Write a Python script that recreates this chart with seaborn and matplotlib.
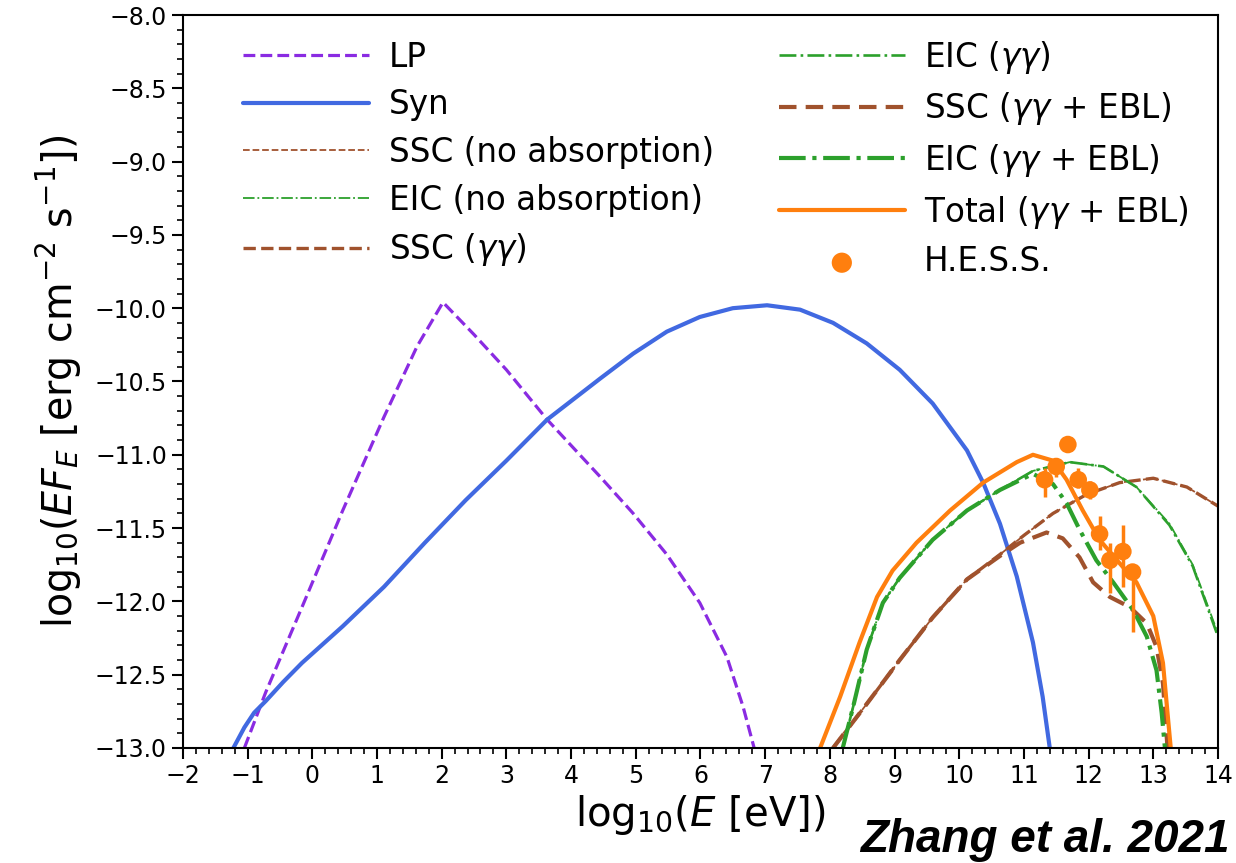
import numpy as np
import pandas as pd
import matplotlib
matplotlib.use("Agg")
import matplotlib.pyplot as plt
from matplotlib.ticker import AutoMinorLocator, MultipleLocator
import seaborn as sns

# curves: log10(E/eV) -> log10(E F_E)
lp_x = [-1.05, -0.72, -0.16, 0.47, 1.11, 1.62, 2.02, 2.5, 3.0, 3.63, 4.45, 4.96, 5.48, 5.99, 6.41, 6.66, 6.83]
lp_y = [-13.0, -12.62, -12.04, -11.38, -10.74, -10.26, -9.96, -10.18, -10.42, -10.76, -11.15, -11.40, -11.68, -12.01, -12.38, -12.72, -13.0]

syn_x = [-1.22, -1.05, -0.9, -0.72, -0.45, -0.16, 0.47, 1.11, 1.74, 2.37, 3.0, 3.63, 4.45, 4.96, 5.48,
         5.99, 6.50, 7.03, 7.54, 8.05, 8.57, 9.08, 9.59, 10.12, 10.37, 10.63, 10.89, 11.14, 11.29, 11.40]
syn_y = [-13.0, -12.86, -12.76, -12.68, -12.55, -12.42, -12.17, -11.90, -11.60, -11.31, -11.04, -10.76, -10.48, -10.31, -10.16,
         -10.06, -10.00, -9.98, -10.01, -10.10, -10.24, -10.42, -10.65, -10.97, -11.19, -11.47, -11.83, -12.28, -12.65, -13.0]

ssc_noabs_x = [8.05, 8.57, 9.08, 9.59, 10.12, 10.63, 11.0, 11.45, 11.97, 12.48, 13.0, 13.52, 14.0]
ssc_noabs_y = [-13.0, -12.70, -12.40, -12.11, -11.85, -11.68, -11.55, -11.40, -11.27, -11.19, -11.16, -11.22, -11.35]

eic_noabs_x = [8.2, 8.36, 8.57, 8.82, 9.08, 9.59, 10.12, 10.63, 11.14, 11.71, 12.23, 12.74, 13.25, 13.61, 14.0]
eic_noabs_y = [-13.0, -12.72, -12.33, -12.01, -11.84, -11.58, -11.38, -11.24, -11.11, -11.05, -11.08, -11.22, -11.47, -11.75, -12.22]

ssc_gg_x = [8.05, 8.57, 9.08, 9.59, 10.12, 10.63, 11.0, 11.45, 11.97, 12.48, 13.0, 13.52, 14.0]
ssc_gg_y = [-13.0, -12.70, -12.40, -12.11, -11.85, -11.68, -11.55, -11.40, -11.27, -11.19, -11.16, -11.22, -11.35]

eic_gg_x = [8.2, 8.36, 8.57, 8.82, 9.08, 9.59, 10.12, 10.63, 11.14, 11.71, 12.23, 12.74, 13.25, 13.61, 14.0]
eic_gg_y = [-13.0, -12.72, -12.33, -12.01, -11.84, -11.58, -11.38, -11.24, -11.11, -11.05, -11.08, -11.22, -11.48, -11.76, -12.24]

ssc_ebl_x = [8.05, 8.57, 9.08, 9.59, 10.12, 10.63, 10.94, 11.35, 11.6, 11.86, 12.07, 12.33, 12.64, 12.9, 13.05, 13.15, 13.22]
ssc_ebl_y = [-13.0, -12.70, -12.40, -12.11, -11.85, -11.69, -11.60, -11.53, -11.57, -11.70, -11.87, -11.97, -12.04, -12.15, -12.31, -12.56, -13.0]

eic_ebl_x = [8.2, 8.36, 8.57, 8.82, 9.08, 9.59, 10.12, 10.63, 11.14, 11.45, 11.66, 11.86, 12.12, 12.38, 12.69, 12.9, 13.05, 13.13, 13.18]
eic_ebl_y = [-13.0, -12.72, -12.33, -12.01, -11.84, -11.58, -11.38, -11.24, -11.13, -11.20, -11.33, -11.51, -11.72, -11.87, -12.06, -12.24, -12.47, -12.76, -13.0]

total_x = [7.85, 8.16, 8.46, 8.73, 8.97, 9.34, 9.86, 10.37, 10.89, 11.14, 11.45, 11.66, 11.91, 12.17, 12.48, 12.74, 13.0, 13.15, 13.22, 13.27]
total_y = [-13.0, -12.65, -12.28, -11.97, -11.79, -11.60, -11.38, -11.19, -11.05, -11.00, -11.04, -11.17, -11.38, -11.58, -11.74, -11.87, -12.10, -12.42, -12.76, -13.0]

# H.E.S.S. points
hess_x = [11.32, 11.5, 11.68, 11.84, 12.02, 12.17, 12.33, 12.53, 12.68]
hess_y = [-11.17, -11.08, -10.93, -11.17, -11.24, -11.54, -11.72, -11.66, -11.80]
hess_lo = [0.12, 0.07, 0.03, 0.06, 0.06, 0.11, 0.22, 0.24, 0.41]
hess_hi = [0.08, 0.06, 0.03, 0.08, 0.06, 0.12, 0.12, 0.18, 0.05]

sns.set_style("ticks")
plt.rcParams['font.family'] = ['DejaVu Sans']
plt.rcParams['mathtext.fontset'] = 'dejavusans'
plt.rcParams['text.color'] = 'black'
plt.rcParams['axes.labelcolor'] = 'black'
plt.rcParams['xtick.color'] = 'black'
plt.rcParams['ytick.color'] = 'black'
plt.rcParams['axes.unicode_minus'] = True

fig = plt.figure(figsize=(12.36, 8.63), dpi=100)
ax = fig.add_axes([0.148, 0.1333, 0.8374, 0.8493])

purple = '#8a2be2'
blue = '#4169e1'
brown = '#a0522d'
green = '#2ca02c'
orange = '#ff7f0e'

sns.lineplot(x=lp_x, y=lp_y, ax=ax, color=purple, lw=2.3, ls='--', label='LP', sort=False)
sns.lineplot(x=syn_x, y=syn_y, ax=ax, color=blue, lw=3.0, ls='-', label='Syn', sort=False)
sns.lineplot(x=ssc_noabs_x, y=ssc_noabs_y, ax=ax, color=brown, lw=1.3, ls='--', label='SSC (no absorption)', sort=False)
sns.lineplot(x=eic_noabs_x, y=eic_noabs_y, ax=ax, color=green, lw=1.3, ls='-.', label='EIC (no absorption)', sort=False)
sns.lineplot(x=ssc_gg_x, y=ssc_gg_y, ax=ax, color=brown, lw=2.4, ls='--', label=r'SSC ($\gamma\gamma$)', sort=False)
sns.lineplot(x=eic_gg_x, y=eic_gg_y, ax=ax, color=green, lw=1.9, ls='-.', label=r'EIC ($\gamma\gamma$)', sort=False)
sns.lineplot(x=ssc_ebl_x, y=ssc_ebl_y, ax=ax, color=brown, lw=3.0, ls=(0, (4.2, 2.2)), label=r'SSC ($\gamma\gamma$ + EBL)', sort=False)
sns.lineplot(x=eic_ebl_x, y=eic_ebl_y, ax=ax, color=green, lw=3.0, ls='-.', label=r'EIC ($\gamma\gamma$ + EBL)', sort=False)
sns.lineplot(x=total_x, y=total_y, ax=ax, color=orange, lw=3.0, ls='-', label=r'Total ($\gamma\gamma$ + EBL)', sort=False)

ax.errorbar(hess_x, hess_y, yerr=[hess_lo, hess_hi], fmt='none', ecolor=orange, elinewidth=2.5, capsize=0)
sns.scatterplot(x=hess_x, y=hess_y, ax=ax, color=orange, s=160, edgecolor='none', label='H.E.S.S.', zorder=5)

ax.set_xlim(-2, 14)
ax.set_ylim(-13, -8)
ax.xaxis.set_major_locator(MultipleLocator(1))
ax.yaxis.set_major_locator(MultipleLocator(0.5))
ax.xaxis.set_minor_locator(AutoMinorLocator(5))
ax.yaxis.set_minor_locator(AutoMinorLocator(5))
ax.tick_params(which='major', direction='out', length=8, width=1.5, labelsize=17, top=False, right=False)
ax.tick_params(which='minor', direction='out', length=4, width=1.2, top=False, right=False)
for sp in ax.spines.values():
    sp.set_linewidth(1.5)
    sp.set_color('black')

ax.set_xlabel(r'log$_{10}$($E$ [eV])', fontsize=29, labelpad=4)
ax.set_ylabel(r'log$_{10}$($EF_E$ [erg cm$^{-2}$ s$^{-1}$])', fontsize=28.5, labelpad=8)

ax.legend(loc='upper left', bbox_to_anchor=(0.03, 1.008), ncol=2, frameon=False, fontsize=23.5,
          handlelength=3.85, handletextpad=0.6, columnspacing=2.0, labelspacing=0.45, markerscale=1.15)

fig.text(0.995, 0.013, 'Zhang et al. 2021', ha='right', va='baseline', fontsize=33,
         fontweight='bold', fontstyle='italic', family=['Liberation Sans', 'DejaVu Sans'])

fig.savefig('out.png', dpi=100)
